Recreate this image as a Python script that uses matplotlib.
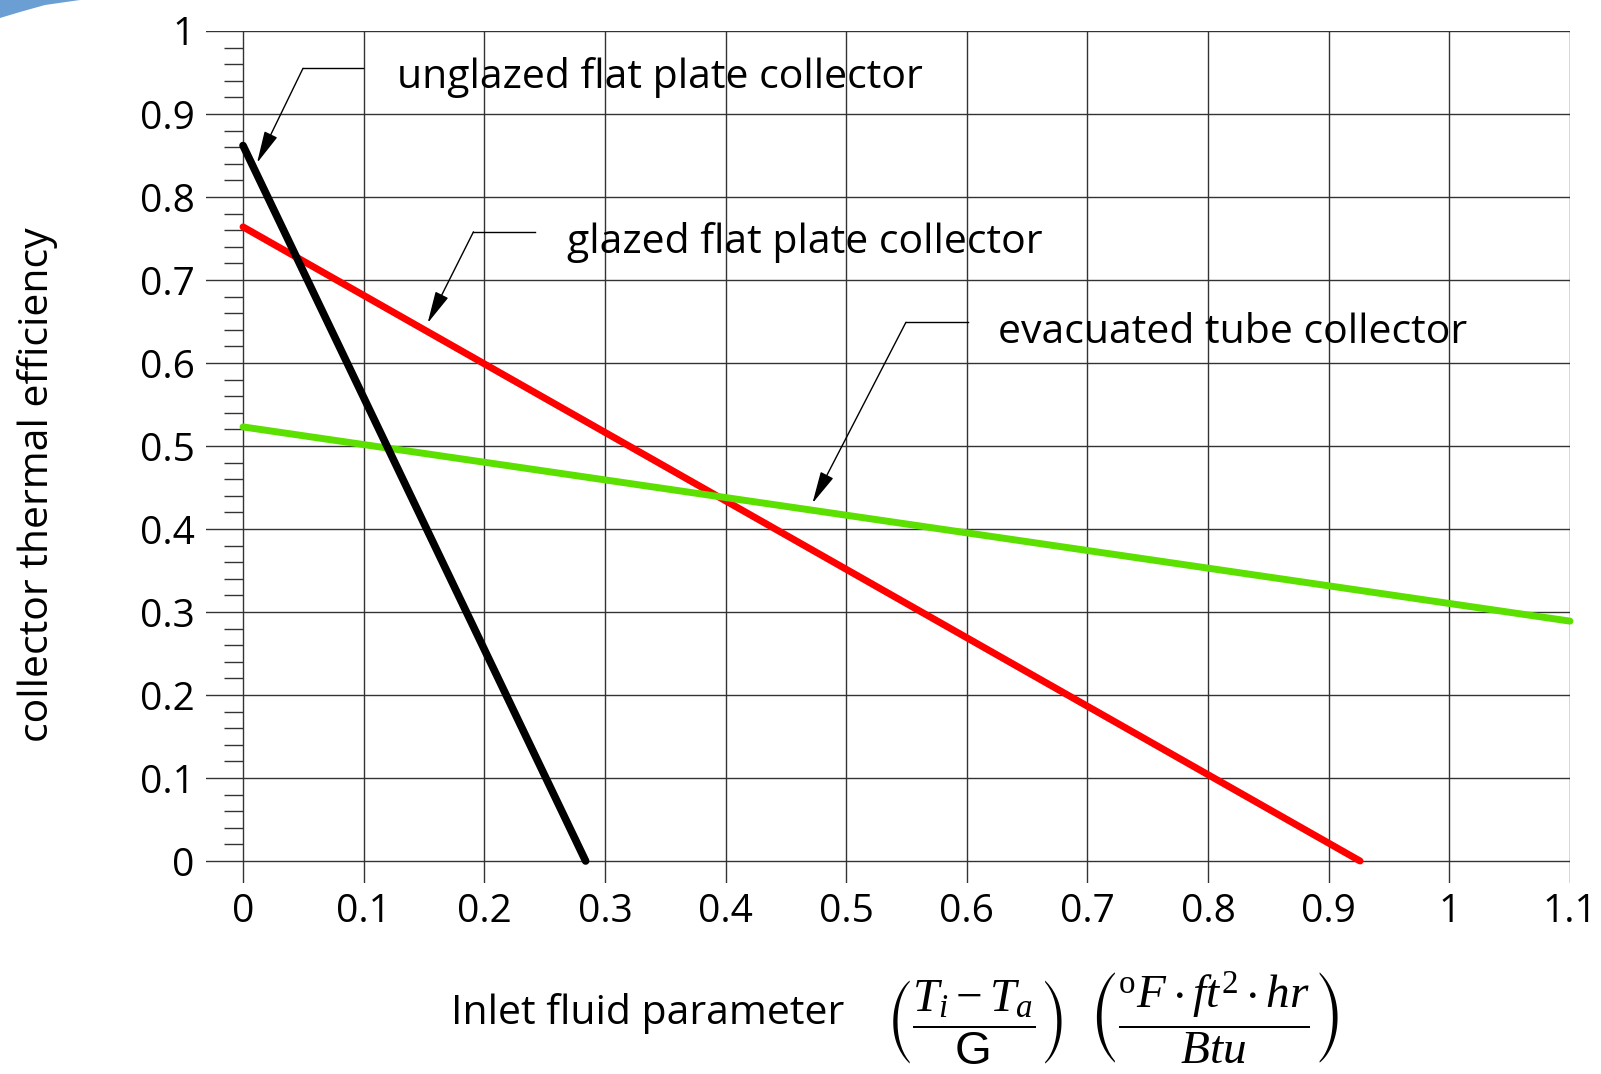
import numpy as np
import matplotlib
matplotlib.use('Agg')
from matplotlib import pyplot as plt
from matplotlib.ticker import FixedLocator
from matplotlib.patches import Polygon

# collector efficiency lines: (x, y) end points
unglazed_x = [0.0, 0.284]
unglazed_y = [0.862, 0.0]
glazed_x = [0.0, 0.926]
glazed_y = [0.764, 0.0]
evacuated_x = [0.0, 1.1]
evacuated_y = [0.523, 0.289]

x_ticks = [0, 0.1, 0.2, 0.3, 0.4, 0.5, 0.6, 0.7, 0.8, 0.9, 1.0, 1.1]
x_labels = ['0', '0.1', '0.2', '0.3', '0.4', '0.5', '0.6', '0.7', '0.8', '0.9', '1', '1.1']
y_ticks = [0, 0.1, 0.2, 0.3, 0.4, 0.5, 0.6, 0.7, 0.8, 0.9, 1.0]
y_labels = ['0', '0.1', '0.2', '0.3', '0.4', '0.5', '0.6', '0.7', '0.8', '0.9', '1']

# label text, leader tip / elbow / end, text anchor
callouts = [
    ('unglazed flat plate collector', (0.0116, 0.841), (0.0497, 0.955), 0.0995, (0.1276, 0.931)),
    ('glazed flat plate collector', (0.153, 0.648), (0.191, 0.758), 0.242, (0.2685, 0.7325)),
    ('evacuated tube collector', (0.472, 0.431), (0.5495, 0.649), 0.601, (0.626, 0.624)),
]

plt.rcParams['font.family'] = ['Open Sans', 'DejaVu Sans']
plt.rcParams['mathtext.fontset'] = 'custom'
plt.rcParams['mathtext.rm'] = 'Liberation Serif'
plt.rcParams['mathtext.it'] = 'Liberation Serif:italic'
plt.rcParams['mathtext.sf'] = 'Liberation Sans'
plt.rcParams['mathtext.fallback'] = 'stix'

fig = plt.figure(figsize=(16.01, 10.74), dpi=100)
ax = fig.add_axes([206 / 1601, 191 / 1074, 1364 / 1601, 852 / 1074])

ax.set_xlim(-0.0307, 1.1)
ax.set_ylim(-0.0265, 1.0)

for s in ['top', 'right', 'bottom']:
    ax.spines[s].set_visible(False)
ax.spines['left'].set_position(('data', 0))
ax.spines['left'].set_visible(False)

ax.set_xticks(x_ticks)
ax.set_xticklabels(x_labels)
ax.set_yticks(y_ticks)
ax.set_yticklabels(y_labels)
ax.grid(True, which='major', color='#333333', lw=1.0)
ax.set_axisbelow(True)

ax.yaxis.set_minor_locator(FixedLocator([v for v in np.arange(0.02, 1.0, 0.02) if abs(v * 10 - round(v * 10)) > 1e-6]))
ax.tick_params(axis='y', which='major', length=0, pad=35, labelsize=28)
ax.tick_params(axis='y', which='minor', length=13.7, width=1.0, color='#333333', direction='out')
ax.tick_params(axis='x', which='major', length=0, pad=7, labelsize=28)

ax.plot(unglazed_x, unglazed_y, color='black', lw=5.5, solid_capstyle='round', zorder=4, clip_on=False)
ax.plot(glazed_x, glazed_y, color='#ff0000', lw=5, solid_capstyle='round', zorder=3, clip_on=False)
ax.plot(evacuated_x, evacuated_y, color='#5be000', lw=5, solid_capstyle='round', zorder=3, clip_on=False)

for text, tip, elbow, end_x, pos in callouts:
    ax.plot([end_x, elbow[0]], [elbow[1], elbow[1]], color='black', lw=1.0, zorder=5)
    ax.annotate('', xy=tip, xytext=elbow,
                arrowprops=dict(arrowstyle='-|>,head_length=1.0,head_width=0.22',
                                mutation_scale=20, lw=1.0, color='black',
                                shrinkA=0, shrinkB=0), zorder=5)
    ax.text(pos[0], pos[1], text, fontsize=29.5, ha='left', va='baseline', zorder=6)

fig.text(38 / 1601, 1 - 485 / 1074, 'collector thermal efficiency', rotation=90,
         fontsize=29.5, ha='center', va='center')
fig.text(648 / 1601, 1 - 1013 / 1074, 'Inlet fluid parameter', fontsize=29.5,
         ha='center', va='center')
fig.text(1113 / 1601, 1 - 1018 / 1074,
         r'$\left(\dfrac{T_i - T_a}{\mathsf{G}}\right)\ \ \left(\dfrac{{}^{\mathrm{o}}F\cdot ft^{2}\cdot hr}{Btu}\right)$',
         fontsize=34, ha='center', va='center')

# blue swoosh in the top-left corner of the slide
px = lambda x, y: (x / 1601, 1 - y / 1074)
fig.patches.append(Polygon([px(0, 0), px(0, 18), px(20, 12), px(45, 5), px(80, 0)],
                           closed=True, transform=fig.transFigure, facecolor='#5b95d0',
                           edgecolor='none', alpha=0.9))

fig.savefig('out.png', dpi=100)
